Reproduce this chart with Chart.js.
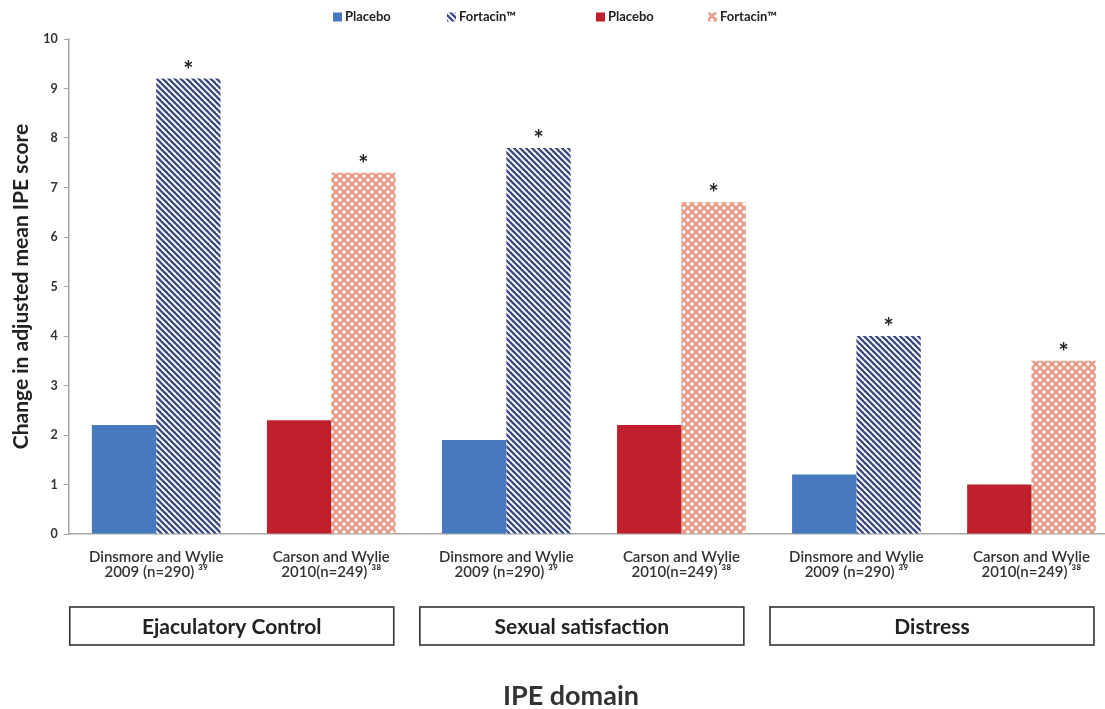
<!DOCTYPE html>
<html>
<head>
<meta charset="utf-8">
<script src="https://cdn.jsdelivr.net/npm/chart.js@4.4.0/dist/chart.umd.min.js"></script>
<style>
  html, body { margin: 0; background: #fff; overflow: hidden; }
  /* the original figure is cropped on the right, so the canvas runs a bit past the window */
  #wrap { width: 1119px; height: 709px; }
</style>
</head>
<body>
<div id="wrap"><canvas id="ipeChart"></canvas></div>
<script>
// study labels under each pair of bars
const studyLabels = [
    ['Dinsmore and Wylie', '2009 (n=290) ³⁹'],
    ['Carson and Wylie', '2010(n=249) ³⁸'],
    ['Dinsmore and Wylie', '2009 (n=290) ³⁹'],
    ['Carson and Wylie', '2010(n=249) ³⁸'],
    ['Dinsmore and Wylie', '2009 (n=290) ³⁹'],
    ['Carson and Wylie', '2010(n=249) ³⁸']
];
const domainNames = ['Ejaculatory Control', 'Sexual satisfaction', 'Distress'];
const xAxisTitle = 'IPE domain';

// values (null = no bar in that slot)
const dinsmorePlacebo  = [2.2, null, 1.9, null, 1.2, null];
const dinsmoreFortacin = [9.2, null, 7.8, null, 4.0, null];
const carsonPlacebo    = [null, 2.3, null, 2.2, null, 1.0];
const carsonFortacin   = [null, 7.3, null, 6.7, null, 3.5];

const yMin = 0;
const yMax = 10;
const yStep = 1;

const FONT = 'Lato';

// diagonal stripes "\\\" for the blue Fortacin bars
function stripePattern(color) {
    const s = 6;
    const c = document.createElement('canvas');
    c.width = s; c.height = s;
    const g = c.getContext('2d');
    g.fillStyle = '#fff';
    g.fillRect(0, 0, s, s);
    g.strokeStyle = color;
    g.lineWidth = 2.3;
    [-s, 0, s].forEach(o => {
        g.beginPath();
        g.moveTo(o - 1, -1);
        g.lineTo(o + s + 1, s + 1);
        g.stroke();
    });
    return g.createPattern(c, 'repeat');
}

// diagonal cross lattice for the red Fortacin bars
function latticePattern(color) {
    const s = 8;
    const c = document.createElement('canvas');
    c.width = s; c.height = s;
    const g = c.getContext('2d');
    g.fillStyle = '#fff';
    g.fillRect(0, 0, s, s);
    g.strokeStyle = color;
    g.lineWidth = 2.6;
    [-s, 0, s].forEach(o => {
        g.beginPath();
        g.moveTo(o - 1, -1);
        g.lineTo(o + s + 1, s + 1);
        g.stroke();
        g.beginPath();
        g.moveTo(o + s + 1, -1);
        g.lineTo(o - 1, s + 1);
        g.stroke();
    });
    return g.createPattern(c, 'repeat');
}

const blueStripes = stripePattern('#3b4a80');
const redLattice = latticePattern('#e69a86');

// custom legend: the original is two legends placed side by side
const legendPlugin = {
    id: 'spacedLegend',
    afterDraw(chart) {
        const ctx = chart.ctx;
        const itemX = [333, 447, 596, 708];
        const box = 9, y = 17;
        ctx.save();
        ctx.font = `bold 13px ${FONT}`;
        ctx.textBaseline = 'middle';
        chart.data.datasets.forEach((ds, i) => {
            const x = itemX[i];
            ctx.fillStyle = ds.backgroundColor;
            ctx.fillRect(x, y - box / 2, box, box);
            ctx.fillStyle = '#222';
            ctx.fillText(ds.label, x + box + 3, y);
        });
        ctx.restore();
    }
};

// asterisks over the Fortacin bars
const starPlugin = {
    id: 'stars',
    afterDatasetsDraw(chart) {
        const ctx = chart.ctx;
        ctx.save();
        ctx.font = `bold 24px ${FONT}`;
        ctx.fillStyle = '#222';
        ctx.textAlign = 'center';
        ctx.textBaseline = 'alphabetic';
        [1, 3].forEach(di => {
            const meta = chart.getDatasetMeta(di);
            meta.data.forEach((bar, i) => {
                if (chart.data.datasets[di].data[i] == null) return;
                ctx.fillText('*', bar.x, bar.y);
            });
        });
        ctx.restore();
    }
};

// boxed domain names under each pair of studies, then the axis title
const domainPlugin = {
    id: 'domains',
    afterDraw(chart) {
        const ctx = chart.ctx;
        const xs = chart.scales.x;
        const top = chart.chartArea.bottom + 73;
        const h = 38;
        const half = 162;
        ctx.save();
        ctx.strokeStyle = '#333';
        ctx.lineWidth = 1.6;
        ctx.font = `bold 21px ${FONT}`;
        ctx.fillStyle = '#222';
        ctx.textAlign = 'center';
        ctx.textBaseline = 'middle';
        domainNames.forEach((name, gi) => {
            const mid = (xs.getPixelForValue(gi * 2) + xs.getPixelForValue(gi * 2 + 1)) / 2 - 12;
            ctx.strokeRect(mid - half, top, half * 2, h);
            ctx.fillText(name, mid, top + h / 2 + 1);
        });
        ctx.font = `bold 27px ${FONT}`;
        ctx.fillStyle = '#333';
        ctx.fillText(xAxisTitle, 571, chart.chartArea.bottom + 162);
        ctx.restore();
    }
};

const ctxIpe = document.getElementById('ipeChart').getContext('2d');
new Chart(ctxIpe, {
    type: 'bar',
    data: {
        labels: studyLabels,
        datasets: [
            { label: 'Placebo', data: dinsmorePlacebo, backgroundColor: '#4679bd' },
            { label: 'Fortacin™', data: dinsmoreFortacin, backgroundColor: blueStripes },
            { label: 'Placebo', data: carsonPlacebo, backgroundColor: '#c0202b' },
            { label: 'Fortacin™', data: carsonFortacin, backgroundColor: redLattice }
        ]
    },
    options: {
        responsive: true,
        maintainAspectRatio: false,
        animation: false,
        datasets: {
            bar: { skipNull: true, categoryPercentage: 0.735, barPercentage: 1.0 }
        },
        layout: { padding: { top: 39, left: 9, right: 0, bottom: 121 } },
        scales: {
            x: {
                grid: { display: false },
                border: { color: '#a6a6a6', width: 1.5 },
                ticks: {
                    color: '#333',
                    font: { family: FONT, size: 15, weight: '600', lineHeight: 1.0 },
                    maxRotation: 0,
                    padding: 8
                }
            },
            y: {
                min: yMin,
                max: yMax,
                grid: { drawOnChartArea: false, drawTicks: true, tickLength: 5, color: '#a6a6a6' },
                border: { color: '#a6a6a6', width: 1.5 },
                ticks: {
                    stepSize: yStep,
                    color: '#333',
                    font: { family: FONT, size: 12.5, weight: 'bold' },
                    padding: 6
                },
                title: {
                    display: true,
                    text: 'Change in adjusted mean IPE score',
                    color: '#222',
                    font: { family: FONT, size: 21, weight: 'bold' },
                    padding: { top: 0, bottom: 3 }
                }
            }
        },
        plugins: {
            legend: { display: false },
            tooltip: { enabled: false }
        }
    },
    plugins: [legendPlugin, starPlugin, domainPlugin]
});
</script>
</body>
</html>
